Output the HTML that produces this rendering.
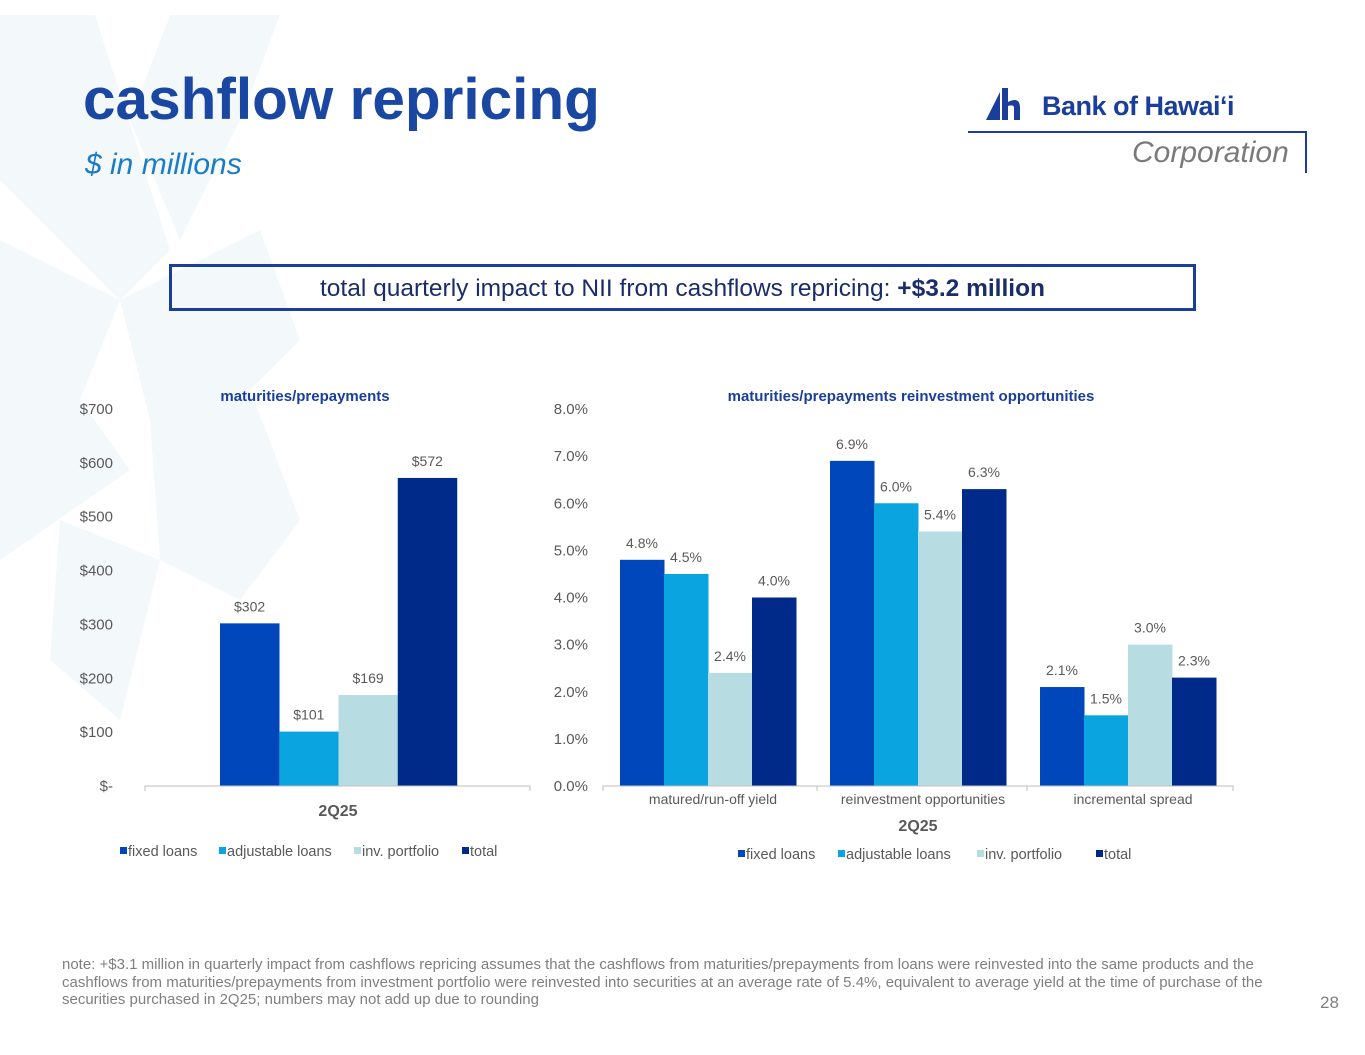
<!DOCTYPE html>
<html><head><meta charset="utf-8"><style>
body{margin:0;width:1365px;height:1055px;overflow:hidden;background:#fff;font-family:"Liberation Sans",sans-serif;position:relative}
.abs{position:absolute}
</style></head><body>
<svg class="abs" style="left:0;top:0" width="1365" height="1055">
<g fill="#f3f8fa">
<polygon points="0,15 95,15 170,250 120,300 0,180"/>
<polygon points="170,15 280,15 240,120 180,240 130,120"/>
<polygon points="0,240 120,300 80,400 0,430"/>
<polygon points="120,300 260,230 300,340 250,390 150,420"/>
<polygon points="0,430 80,400 130,470 0,560"/>
<polygon points="150,420 250,390 300,520 240,600 160,560"/>
<polygon points="60,520 160,560 120,720 50,660"/>
</g>
</svg>
<div class="abs" style="left:83px;top:66px;font-size:58.5px;font-weight:bold;color:#1a47a1">cashflow repricing</div>
<div class="abs" style="left:85px;top:148px;font-size:30px;font-style:italic;color:#1a7cc7">$ in millions</div>
<div class="abs" style="left:968px;top:82px;width:340px;height:95px">
<svg width="40" height="40" class="abs" style="left:18px;top:4px"><polygon points="0,34 14,6 14,34" fill="#1a3e9a"/><rect x="16" y="2" width="6" height="32" fill="#1a3e9a"/><path d="M22 16 Q34 10 34 22 L34 34 L28 34 L28 22 Q28 18 22 20Z" fill="#1a3e9a"/></svg>
<div class="abs" style="left:74px;top:9px;font-size:27px;font-weight:bold;color:#1a3e9a;white-space:nowrap;letter-spacing:-0.5px">Bank of Hawaiʻi</div>
<div class="abs" style="left:0;top:49px;width:338px;height:2px;background:#1a3e9a"></div>
<div class="abs" style="left:337px;top:49px;width:2px;height:42px;background:#1a3e9a"></div>
<div class="abs" style="left:164px;top:54px;font-size:30px;font-style:italic;color:#7a7a7a">Corporation</div>
</div>
<div class="abs" style="left:169px;top:264px;width:1021px;height:41px;border:3px solid #1a3e9a;text-align:center;line-height:43px;font-size:24.5px;color:#1a2d6b">total quarterly impact to NII from cashflows repricing: <b>+$3.2 million</b></div>

<svg class="abs" style="left:0;top:0" width="1365" height="1055" id="charts"></svg>

<div class="abs" style="left:62px;top:956px;width:1230px;font-size:15px;color:#7f7f7f;line-height:17.5px">note: +$3.1 million in quarterly impact from cashflows repricing assumes that the cashflows from maturities/prepayments from loans were reinvested into the same products and the cashflows from maturities/prepayments from investment portfolio were reinvested into securities at an average rate of 5.4%, equivalent to average yield at the time of purchase of the securities purchased in 2Q25; numbers may not add up due to rounding</div>
<div class="abs" style="left:1320px;top:993px;font-size:17px;color:#7f7f7f">28</div>

<script>
const seriesNames=["fixed loans","adjustable loans","inv. portfolio","total"];
const leftValues=[302,101,169,572];
const leftLabels=["$302","$101","$169","$572"];
const leftTicks=["$-","$100","$200","$300","$400","$500","$600","$700"];
const rightCategories=["matured/run-off yield","reinvestment opportunities","incremental spread"];
const fixedLoans=[4.8,6.9,2.1];
const adjustableLoans=[4.5,6.0,1.5];
const invPortfolio=[2.4,5.4,3.0];
const totalSeries=[4.0,6.3,2.3];
const rightTicks=["0.0%","1.0%","2.0%","3.0%","4.0%","5.0%","6.0%","7.0%","8.0%"];
const colors=["#0047bb","#0aa5e0","#b7dde3","#002a8a"];
const NS="http://www.w3.org/2000/svg";
const svg=document.getElementById('charts');
function mk(tag,a,txt){const e=document.createElementNS(NS,tag);for(const k in a)e.setAttribute(k,a[k]);if(txt!=null)e.textContent=txt;svg.appendChild(e);return e;}
const ly=v=>786-v*(377/700);
mk('text',{x:305,y:401,'text-anchor':'middle','font-size':15,'font-weight':'bold',fill:'#1a3e9a'},'maturities/prepayments');
leftTicks.forEach((t,i)=>{const e=mk('text',{x:113,y:ly(i*100)+5,'text-anchor':'end','font-size':15,fill:'#595959'},t);

});
leftValues.forEach((v,i)=>{const x=220+i*59.25;
const r=mk('rect',{x:x,y:ly(v),width:59.5,height:786-ly(v),fill:colors[i]});


const t=mk('text',{x:x+29.6,y:ly(v)-12,'text-anchor':'middle','font-size':14,fill:'#595959'},leftLabels[i]);

});
mk('path',{d:'M145 791 V786 H530 V791',stroke:'#bfbfbf',fill:'none'});
mk('text',{x:338,y:816,'text-anchor':'middle','font-size':16,'font-weight':'bold',fill:'#595959'},'2Q25');
const ry=v=>786-v*(377/8);
mk('text',{x:911,y:401,'text-anchor':'middle','font-size':15,'font-weight':'bold',fill:'#1a3e9a'},'maturities/prepayments reinvestment opportunities');
rightTicks.forEach((t,i)=>{const e=mk('text',{x:588,y:ry(i)+5,'text-anchor':'end','font-size':15,fill:'#595959'},t);

});
const series=[fixedLoans,adjustableLoans,invPortfolio,totalSeries];
const gx0=603,gw=210;
rightCategories.forEach((c,g)=>{
 series.forEach((s,i)=>{const x=gx0+g*gw+17+i*44;const v=s[g];
 const r=mk('rect',{x:x,y:ry(v),width:44.5,height:786-ry(v),fill:colors[i]});
 
 
 const t=mk('text',{x:x+22,y:ry(v)-12,'text-anchor':'middle','font-size':14,fill:'#595959'},v.toFixed(1)+'%');
 
 });
 const t=mk('text',{x:gx0+g*gw+gw/2+5,y:804,'text-anchor':'middle','font-size':14,fill:'#595959'},c);
 
 
});
let d='M603 791 V786 H1233 V791';for(let g=1;g<3;g++)d+=' M'+(gx0+g*gw+4)+' 786 V791';
mk('path',{d:d,stroke:'#bfbfbf',fill:'none'});
mk('text',{x:918,y:831,'text-anchor':'middle','font-size':16,'font-weight':'bold',fill:'#595959'},'2Q25');
function legend(y,pos){seriesNames.forEach((n,i)=>{
 const r=mk('rect',{x:pos[i],y:y-9,width:7,height:7,fill:colors[i]});
 
 
 const t=mk('text',{x:pos[i]+8,y:y,'font-size':14.5,fill:'#595959'},n);
 
 });}
legend(856,[120,219,354,462]);
legend(859,[738,838,977,1096]);
</script>
</body></html>
